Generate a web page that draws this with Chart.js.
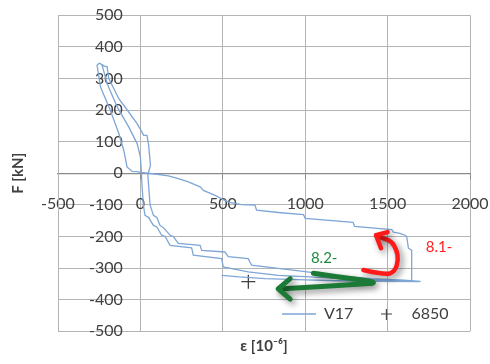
<!DOCTYPE html>
<html>
<head>
<meta charset="utf-8">
<script src="https://cdn.jsdelivr.net/npm/chart.js@4.4.1/dist/chart.umd.min.js"></script>
<style>
  html, body { margin: 0; padding: 0; background: #fff; }
  #wrap { width: 490px; height: 364px; }
</style>
</head>
<body>
<div id="wrap"><canvas id="chart" width="490" height="364"></canvas></div>
<script>
// V17 force / strain loops

// tick labels
const xTicks = [-500, 0, 500, 1000, 1500, 2000];
const yTicks = [-500, -400, -300, -200, -100, 0, 100, 200, 300, 400, 500];

// V17 branches as [strain 10^-6, F kN]
const outerBranch = [[-250,348],[-263,342],[-242,273],[-182,199],[-131,126],[-101,73],[-81,20],[-50,6],[-20,5],[0,3],
    [100,-3],[170,-8],[230,-17],[291,-27],[362,-43],[382,-54],[453,-70],[533,-91],[614,-99],[695,-101],[705,-117],
    [836,-124],[990,-131],[1000,-143],[1290,-155],[1300,-168],[1525,-178],[1535,-186],[1575,-190],[1606,-196],
    [1616,-200],[1626,-237],[1646,-243],[1646,-343],[1697,-343]];
const middleBranch = [[-248,350],[-232,342],[-202,284],[-141,210],[-71,147],[-20,94],[0,52],[5,10],[10,-40],[18,-101],
    [28,-133],[50,-140],[79,-165],[100,-170],[129,-196],[150,-200],[180,-228],[311,-236],[321,-259],[493,-270],
    [503,-296],[654,-312],[836,-323],[1000,-327],[1300,-336],[1600,-340],[1680,-342]];
const innerBranch = [[-235,345],[-222,340],[-202,337],[-192,300],[-131,236],[-71,194],[-20,157],[20,120],[40,120],
    [50,89],[61,26],[45,-5],[59,-101],[79,-133],[100,-140],[119,-165],[140,-172],[180,-196],[200,-200],[230,-222],
    [362,-228],[372,-244],[513,-249],[533,-264],[654,-270],[675,-291],[836,-301],[1000,-311],[1200,-325],
    [1400,-333],[1600,-338],[1700,-342]];
const returnBranch = [[1697,-343],[1450,-342],[1200,-340],[1000,-337],[757,-333],[600,-328],[493,-323]];

// single reading "6850"
const point6850 = [[655,-343]];

// hand drawn marks on top of the chart, in data units
const redArrow = [[1353,-306],[1485,-322],[1545,-311],[1565,-274],[1555,-243],[1525,-216],[1475,-206],[1430,-196]];
const redHead = [[1500,-186],[1430,-196],[1460,-237]];
const greenArrow = [[1050,-316],[1200,-328],[1465,-346],[1300,-352],[1050,-360],[840,-366]];
const greenHead = [[909,-333],[836,-366],[909,-398]];
const noteText = ['8.1-', '8.2-'];
const notePos = [[1812,-233],[1115,-268]];

function joinBranches(branches){
    const out = [];
    branches.forEach((b, i) => {
        if(i > 0) out.push({x: null, y: null}); // break the line
        b.forEach(p => out.push({x: p[0], y: p[1]}));
    });
    return out;
}

// axes drawn inside the plot take no room in the layout
function noRoom(s){
    if(s.isHorizontal()) s.height = 0; else s.width = 0;
    s.paddingLeft = s.paddingRight = s.paddingTop = s.paddingBottom = 0;
}

// small "+" used for the legend entry
const crossIcon = document.createElement('canvas');
crossIcon.width = crossIcon.height = 11;
(function(){
    const c = crossIcon.getContext('2d');
    c.strokeStyle = '#404040';
    c.lineWidth = 1.2;
    c.beginPath();
    c.moveTo(0, 5.5); c.lineTo(11, 5.5);
    c.moveTo(5.5, 0); c.lineTo(5.5, 11);
    c.stroke();
})();

// legend sits inside the plot, near the bottom
const placeLegend = {
    id: 'placeLegend',
    afterLayout(chart){
        const lg = chart.legend;
        lg.left = 266;
        lg.right = 490;
        lg.width = lg.right - lg.left;
        lg.top = 290;
        lg.bottom = 332;
        lg.height = lg.bottom - lg.top;
    }
};

// the red / green hand drawn arrows and notes
const handNotes = {
    id: 'handNotes',
    afterDatasetsDraw(chart){
        const {ctx, scales: {x, y}} = chart;
        const toPx = p => [x.getPixelForValue(p[0]), y.getPixelForValue(p[1])];
        function smooth(points){
            const pts = points.map(toPx);
            ctx.moveTo(pts[0][0], pts[0][1]);
            for(let i = 1; i < pts.length - 1; i++){
                const mx = (pts[i][0] + pts[i+1][0]) / 2, my = (pts[i][1] + pts[i+1][1]) / 2;
                ctx.quadraticCurveTo(pts[i][0], pts[i][1], mx, my);
            }
            const last = pts[pts.length - 1];
            ctx.lineTo(last[0], last[1]);
        }
        function poly(points){
            const pts = points.map(toPx);
            ctx.moveTo(pts[0][0], pts[0][1]);
            pts.slice(1).forEach(p => ctx.lineTo(p[0], p[1]));
        }
        ctx.save();
        ctx.lineCap = 'round';
        ctx.lineJoin = 'round';
        ctx.shadowColor = 'rgba(0,0,0,0.45)';
        ctx.shadowBlur = 6;
        ctx.shadowOffsetX = 3;
        ctx.shadowOffsetY = 3;

        ctx.strokeStyle = '#ff1a1a';
        ctx.lineWidth = 4.5;
        ctx.beginPath(); smooth(redArrow); ctx.stroke();
        ctx.beginPath(); poly(redHead); ctx.stroke();

        ctx.strokeStyle = '#1b7a35';
        ctx.lineWidth = 5;
        ctx.beginPath(); smooth(greenArrow); ctx.stroke();
        ctx.beginPath(); poly(greenHead); ctx.stroke();

        ctx.shadowColor = 'transparent';
        ctx.font = '15px Lato';
        ctx.textAlign = 'center';
        ctx.textBaseline = 'middle';
        const colors = ['#ff2020', '#1f8a3d'];
        noteText.forEach((t, i) => {
            const p = toPx(notePos[i]);
            ctx.fillStyle = colors[i];
            ctx.fillText(t, p[0], p[1]);
        });
        ctx.restore();
    }
};

const textColor = '#404040';
const gridColor = '#b4b4b4';

new Chart(document.getElementById('chart'), {
    type: 'scatter',
    data: {
        datasets: [
            {
                label: 'V17',
                data: joinBranches([outerBranch, middleBranch, innerBranch, returnBranch]),
                showLine: true,
                borderColor: '#7ea6d6',
                backgroundColor: '#7ea6d6',
                borderWidth: 1.3,
                pointRadius: 0,
                pointHoverRadius: 0,
                tension: 0
            },
            {
                label: '6850',
                data: point6850.map(p => ({x: p[0], y: p[1]})),
                showLine: false,
                pointStyle: 'cross',
                pointRadius: 7,
                borderColor: '#404040',
                borderWidth: 1.3
            }
        ]
    },
    options: {
        responsive: false,
        animation: false,
        layout: { padding: { left: 0, right: 20, top: 15.3, bottom: 0 } },
        scales: {
            x: {
                type: 'linear',
                min: -500, max: 2000,
                position: { y: 0 },
                afterBuildTicks: s => { s.ticks = xTicks.map(v => ({value: v})); },
                afterFit: noRoom,
                ticks: { color: textColor, font: { family: 'Lato', size: 16 }, padding: 16, maxRotation: 0, autoSkip: false,
                    callback: v => String(v) },
                grid: { color: gridColor, lineWidth: 1, tickLength: 5, tickColor: '#8a8a8a' },
                border: { color: '#8a8a8a', width: 1.3 }
            },
            y: {
                type: 'linear',
                min: -500, max: 500,
                position: 'left',
                afterBuildTicks: s => { s.ticks = yTicks.map(v => ({value: v})); },
                afterFit: noRoom,
                ticks: { color: textColor, font: { family: 'Lato', size: 16 }, mirror: true, crossAlign: 'far', padding: 31,
                    callback: v => String(v) },
                grid: { color: gridColor, lineWidth: 1, drawTicks: false },
                border: { color: gridColor }
            }
        },
        plugins: {
            legend: {
                position: 'bottom',
                align: 'start',
                maxHeight: 0.001,
                labels: {
                    color: textColor,
                    font: { family: 'Lato', size: 16 },
                    usePointStyle: true,
                    pointStyleWidth: 34,
                    padding: 16,
                    generateLabels(chart){
                        const items = Chart.defaults.plugins.legend.labels.generateLabels(chart);
                        items[0].pointStyle = 'line';
                        items[1].pointStyle = crossIcon;
                        return items;
                    }
                }
            },
            title: {
                display: true,
                text: 'ε [10⁻⁶]',
                position: 'bottom',
                fullSize: false,
                color: textColor,
                font: { family: 'Lato', size: 15, weight: 'bold' },
                padding: { top: 6, bottom: 8.7 }
            },
            subtitle: {
                display: true,
                text: 'F [kN]',
                position: 'left',
                fullSize: false,
                color: textColor,
                font: { family: 'Lato', size: 15, weight: 'bold' },
                padding: { top: 9, bottom: 31 }
            },
            tooltip: { enabled: false }
        }
    },
    plugins: [placeLegend, handNotes]
});
</script>
</body>
</html>
